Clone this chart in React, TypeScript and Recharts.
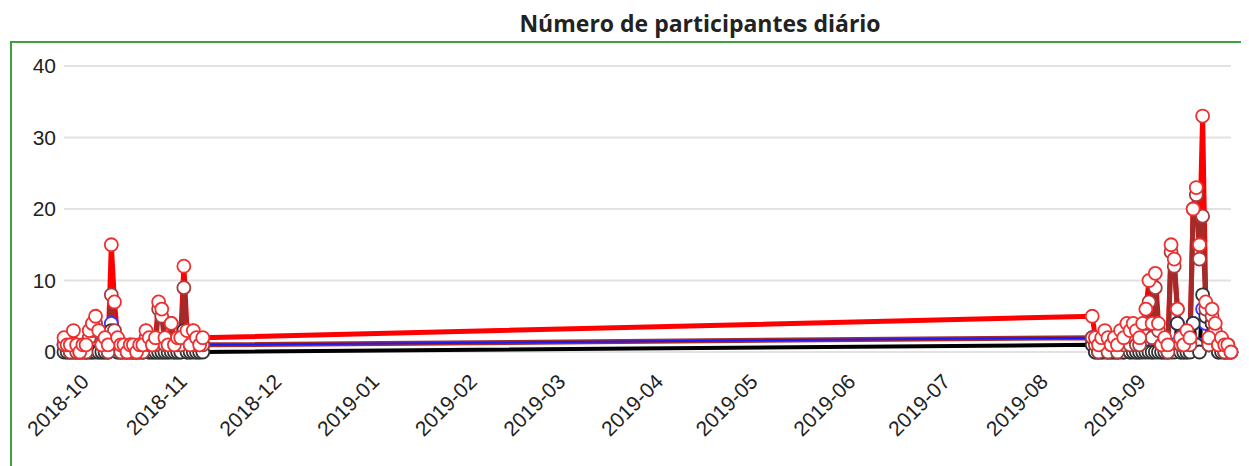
import React from 'react';
import { LineChart, Line, XAxis, YAxis, CartesianGrid } from 'recharts';

// dias com registo (fim de 2018 e fim de 2019)
const dates = [
  '2018-09-22', '2018-09-23', '2018-09-24', '2018-09-25', '2018-09-26',
  '2018-09-27', '2018-09-28', '2018-09-29', '2018-09-30', '2018-10-01',
  '2018-10-02', '2018-10-03', '2018-10-04', '2018-10-05', '2018-10-06',
  '2018-10-07', '2018-10-08', '2018-10-09', '2018-10-10', '2018-10-11',
  '2018-10-12', '2018-10-13', '2018-10-14', '2018-10-15', '2018-10-16',
  '2018-10-17', '2018-10-18', '2018-10-19', '2018-10-20', '2018-10-21',
  '2018-10-22', '2018-10-23', '2018-10-24', '2018-10-25', '2018-10-26',
  '2018-10-27', '2018-10-28', '2018-10-29', '2018-10-30', '2018-10-31',
  '2018-11-01', '2018-11-02', '2018-11-03', '2018-11-04', '2018-11-05',
  '2019-08-14', '2019-08-15', '2019-08-16', '2019-08-17', '2019-08-18',
  '2019-08-19', '2019-08-20', '2019-08-21', '2019-08-22', '2019-08-23',
  '2019-08-24', '2019-08-25', '2019-08-26', '2019-08-27', '2019-08-28',
  '2019-08-29', '2019-08-30', '2019-08-31', '2019-09-01', '2019-09-02',
  '2019-09-03', '2019-09-04', '2019-09-05', '2019-09-06', '2019-09-07',
  '2019-09-08', '2019-09-09', '2019-09-10', '2019-09-11', '2019-09-12',
  '2019-09-13', '2019-09-14', '2019-09-15', '2019-09-16', '2019-09-17',
  '2019-09-18', '2019-09-19', '2019-09-20', '2019-09-21', '2019-09-22',
  '2019-09-23', '2019-09-24', '2019-09-25', '2019-09-26', '2019-09-27',
];

const redValues = [
  2, 1, 1, 3, 1, 0, 1, 1, 3, 4, 5, 3, 1, 2, 1, 15, 7, 2, 1, 1, 0, 1, 1,
  0, 1, 1, 3, 2, 1, 2, 7, 6, 2, 1, 4, 1, 2, 2, 12, 3, 1, 3, 2, 1, 2,
  5, 2, 1, 2, 3, 2, 1, 2, 1, 3, 2, 4, 3, 4, 3, 2, 4, 6, 10, 4, 11, 4, 1,
  2, 1, 15, 13, 6, 2, 1, 3, 2, 20, 23, 15, 33, 7, 2, 6, 4, 1, 2, 1, 1, 0,
];

const darkRedValues = [
  1, 1, 0, 1, 0, 0, 1, 0, 2, 3, 4, 3, 1, 1, 0, 8, 3, 1, 0, 1, 0, 1, 0,
  0, 1, 0, 2, 1, 1, 1, 6, 5, 1, 1, 4, 1, 1, 1, 9, 2, 1, 2, 1, 1, 1,
  2, 1, 0, 1, 1, 0, 1, 1, 0, 2, 1, 3, 1, 2, 1, 1, 3, 4, 7, 2, 9, 3, 1,
  1, 0, 14, 12, 6, 1, 1, 2, 1, 20, 22, 13, 19, 6, 1, 5, 3, 1, 1, 0, 1, 0,
];

const blueValues = [
  1, 0, 0, 0, 0, 0, 0, 0, 0, 0, 1, 0, 0, 0, 0, 4, 2, 0, 0, 0, 0, 0, 0,
  0, 0, 0, 1, 0, 0, 0, 0, 0, 0, 0, 1, 0, 0, 0, 3, 0, 0, 1, 0, 0, 1,
  2, 0, 0, 0, 1, 0, 0, 0, 0, 1, 0, 1, 0, 1, 0, 0, 1, 1, 1, 0, 1, 1, 0,
  0, 0, 1, 1, 4, 0, 0, 0, 1, 4, 1, 1, 6, 4, 1, 4, 1, 0, 1, 0, 0, 0,
];

const blackValues = [
  0, 0, 0, 0, 0, 0, 0, 0, 0, 0, 0, 0, 0, 0, 0, 3, 2, 0, 0, 0, 0, 0, 0,
  0, 0, 0, 1, 0, 0, 0, 0, 0, 0, 0, 0, 0, 0, 0, 3, 0, 0, 0, 0, 0, 0,
  1, 0, 0, 0, 0, 0, 0, 0, 0, 0, 0, 1, 0, 0, 0, 0, 0, 0, 0, 0, 0, 0, 0,
  0, 0, 0, 0, 4, 0, 0, 0, 0, 4, 1, 0, 8, 5, 1, 4, 2, 0, 0, 0, 0, 0,
];

const monthTicks = [
  '2018-10-01', '2018-11-01', '2018-12-01', '2019-01-01', '2019-02-01',
  '2019-03-01', '2019-04-01', '2019-05-01', '2019-06-01', '2019-07-01',
  '2019-08-01', '2019-09-01',
];
const yTicks = [0, 10, 20, 30, 40];
const domainStart = '2018-09-22';
const domainEnd = '2019-09-27';

const data = dates.map((d, i) => ({
  t: Date.parse(d),
  red: redValues[i],
  darkRed: darkRedValues[i],
  blue: blueValues[i],
  black: blackValues[i],
}));

const series = [
  { key: 'red', color: '#ff0000', width: 5, dot: '#f03030' },
  { key: 'darkRed', color: '#a52a2a', width: 5, dot: '#a83c3c' },
  { key: 'blue', color: '#1a1aff', width: 2, dot: '#3a3aff' },
  { key: 'black', color: '#000000', width: 4, dot: '#333333' },
];
// markers go on top of all lines; red ones last
const markerOrder = ['blue', 'black', 'darkRed', 'red'];

const tickStyle = {
  fill: '#222',
  fontSize: 21,
  fontFamily: '"Liberation Sans", Arial, sans-serif',
};

const fmtMonth = (t: number) => new Date(t).toISOString().slice(0, 7);

const MonthTick = (props: any) => {
  const { x, y, payload } = props;
  return (
    <g transform={`translate(${x - 2},${y + 31})`}>
      <text textAnchor="end" transform="rotate(-45)" style={tickStyle}>
        {fmtMonth(payload.value)}
      </text>
    </g>
  );
};

export default function App() {
  return (
    <div style={{ position: 'relative', width: 1241, height: 458, overflow: 'hidden' }}>
      <div
        style={{
          position: 'absolute',
          left: 2,
          top: 33,
          width: 1400,
          height: 600,
          borderLeft: '2px solid #3f9f3f',
          borderTop: '2px solid #3f9f3f',
        }}
      />
      <div
        style={{
          position: 'absolute',
          top: -1,
          left: 692,
          transform: 'translateX(-50%)',
          whiteSpace: 'nowrap',
          fontFamily: '"Open Sans", sans-serif',
          fontWeight: 700,
          fontSize: 23,
          color: '#222',
        }}
      >
        Número de participantes diário
      </div>
      <div style={{ position: 'absolute', left: 0, top: 0 }}>
        <LineChart
          width={1241}
          height={458}
          data={data}
          margin={{ top: 58, right: 18, bottom: 0, left: 0 }}
        >
          <CartesianGrid vertical={false} stroke="#e2e2e2" strokeWidth={2} />
          <XAxis
            type="number"
            dataKey="t"
            domain={[Date.parse(domainStart), Date.parse(domainEnd)]}
            ticks={monthTicks.map((m) => Date.parse(m))}
            tickFormatter={fmtMonth}
            interval={0}
            tickSize={0}
            tickMargin={0}
            height={114}
            axisLine={false}
            tickLine={false}
            tick={<MonthTick />}
          />
          <YAxis
            domain={[0, 40]}
            ticks={yTicks}
            interval={0}
            width={56}
            axisLine={false}
            tickLine={false}
            tick={tickStyle}
          />
          {series.map((s) => (
            <Line
              key={s.key}
              type="linear"
              dataKey={s.key}
              stroke={s.color}
              strokeWidth={s.width}
              dot={false}
              activeDot={false}
              isAnimationActive={false}
            />
          ))}
          {markerOrder.map((k) => {
            const s = series.find((x) => x.key === k)!;
            return (
              <Line
                key={`${k}-markers`}
                type="linear"
                dataKey={k}
                stroke="none"
                dot={{ r: 6.5, fill: '#fff', stroke: s.dot, strokeWidth: 1.8 }}
                activeDot={false}
                legendType="none"
                isAnimationActive={false}
              />
            );
          })}
        </LineChart>
      </div>
    </div>
  );
}
